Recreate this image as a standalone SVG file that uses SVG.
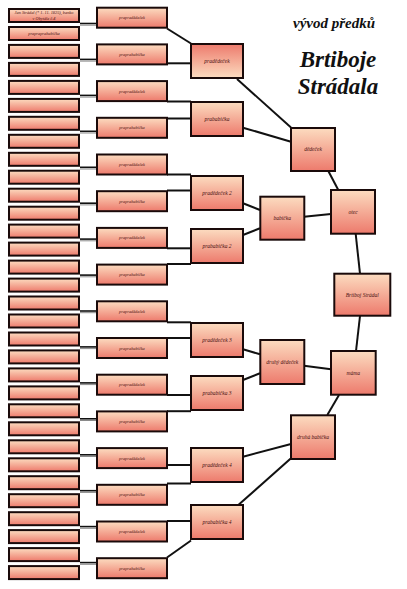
<svg xmlns="http://www.w3.org/2000/svg" width="407" height="589" viewBox="0 0 407 589">
<defs>
<linearGradient id="g" x1="0" y1="0" x2="0" y2="1">
<stop offset="0" stop-color="#fcdcc0"/>
<stop offset="1" stop-color="#ed7a6c"/>
</linearGradient>
<linearGradient id="gr" x1="0" y1="0" x2="0" y2="1">
<stop offset="0" stop-color="#ed7a6c"/>
<stop offset="1" stop-color="#fcdcc0"/>
</linearGradient>
<style>
.b{fill:url(#g);stroke:#1a0a0a;stroke-width:2}
.br{fill:url(#gr);stroke:#1a0a0a;stroke-width:2}
.t{font-family:"Liberation Serif","Times New Roman",serif;font-style:italic;fill:#4a1212;text-anchor:middle}
.s{font-size:4.3px}
.m{font-size:5.5px}
.c line{stroke:#111;stroke-width:2}
.c .k line{stroke:#111;stroke-width:1.6}
.c .gy line{stroke:#8a8a8a;stroke-width:1}
.title{font-family:"Liberation Serif","Times New Roman",serif;font-style:italic;font-weight:bold;fill:#111;text-anchor:middle}
</style>
</defs>
<rect width="407" height="589" fill="#fff"/>
<g id="connectors" class="c">
<g class="k">
<line x1="80" y1="23.5" x2="96" y2="23.5"/>
<line x1="80" y1="59.4" x2="96" y2="59.4"/>
<line x1="80" y1="95.4" x2="96" y2="95.4"/>
<line x1="80" y1="131.3" x2="96" y2="131.3"/>
<line x1="80" y1="167.3" x2="96" y2="167.3"/>
<line x1="80" y1="203.2" x2="96" y2="203.2"/>
<line x1="80" y1="239.1" x2="96" y2="239.1"/>
<line x1="80" y1="275.1" x2="96" y2="275.1"/>
<line x1="80" y1="311.0" x2="96" y2="311.0"/>
<line x1="80" y1="346.9" x2="96" y2="346.9"/>
<line x1="80" y1="382.9" x2="96" y2="382.9"/>
<line x1="80" y1="418.8" x2="96" y2="418.8"/>
<line x1="80" y1="454.8" x2="96" y2="454.8"/>
<line x1="80" y1="490.7" x2="96" y2="490.7"/>
<line x1="80" y1="526.6" x2="96" y2="526.6"/>
<line x1="80" y1="562.6" x2="96" y2="562.6"/>
</g>
<g class="gy">
<line x1="80" y1="25.2" x2="96" y2="25.2"/>
<line x1="80" y1="61.1" x2="96" y2="61.1"/>
<line x1="80" y1="97.1" x2="96" y2="97.1"/>
<line x1="80" y1="133.0" x2="96" y2="133.0"/>
<line x1="80" y1="169.0" x2="96" y2="169.0"/>
<line x1="80" y1="204.9" x2="96" y2="204.9"/>
<line x1="80" y1="240.8" x2="96" y2="240.8"/>
<line x1="80" y1="276.8" x2="96" y2="276.8"/>
<line x1="80" y1="312.7" x2="96" y2="312.7"/>
<line x1="80" y1="348.6" x2="96" y2="348.6"/>
<line x1="80" y1="384.6" x2="96" y2="384.6"/>
<line x1="80" y1="420.5" x2="96" y2="420.5"/>
<line x1="80" y1="456.5" x2="96" y2="456.5"/>
<line x1="80" y1="492.4" x2="96" y2="492.4"/>
<line x1="80" y1="528.3" x2="96" y2="528.3"/>
<line x1="80" y1="564.3" x2="96" y2="564.3"/>
</g>
<line x1="167" y1="28.5" x2="191" y2="43.5"/>
<line x1="167" y1="63.3" x2="191" y2="63.3"/>
<line x1="167" y1="101.5" x2="191" y2="101.5"/>
<line x1="167" y1="118.5" x2="191" y2="118.5"/>
<line x1="167" y1="174.5" x2="191" y2="174.5"/>
<line x1="167" y1="190.5" x2="191" y2="190.5"/>
<line x1="167" y1="248.3" x2="191" y2="248.3"/>
<line x1="167" y1="264" x2="191" y2="264"/>
<line x1="167" y1="322.3" x2="191" y2="322.3"/>
<line x1="167" y1="338" x2="191" y2="338"/>
<line x1="167" y1="395" x2="191" y2="395"/>
<line x1="167" y1="411.2" x2="191" y2="411.2"/>
<line x1="167" y1="465" x2="191" y2="465"/>
<line x1="167" y1="483.5" x2="191" y2="483.5"/>
<line x1="167" y1="521" x2="191" y2="521"/>
<line x1="167" y1="557.5" x2="191" y2="540.5"/>
<line x1="237" y1="79" x2="291" y2="127.5"/>
<line x1="243" y1="127.7" x2="291" y2="141.7"/>
<line x1="243" y1="203.3" x2="260" y2="210"/>
<line x1="243" y1="235" x2="260" y2="228.3"/>
<line x1="304" y1="216.7" x2="331" y2="214"/>
<line x1="328.3" y1="171" x2="338.3" y2="190"/>
<line x1="355.7" y1="234" x2="360" y2="273.7"/>
<line x1="360" y1="316" x2="356" y2="351"/>
<line x1="243" y1="349.3" x2="260" y2="354.3"/>
<line x1="243" y1="380" x2="260" y2="373.3"/>
<line x1="304" y1="365.7" x2="331" y2="369.3"/>
<line x1="339" y1="395" x2="327.3" y2="415"/>
<line x1="243" y1="456.7" x2="291" y2="444"/>
<line x1="238.3" y1="505" x2="291" y2="458.3"/>
</g>
<g id="n-l0"><rect class="b" x="9" y="9" width="70" height="13"/><text class="t s" x="44" y="14.3">Jan Strádal (* 1. 11. 1825), banko</text><text class="t s" x="44" y="19.6">v Obytále č.4</text></g>
<g id="n-l1"><rect class="b" x="9" y="27" width="70" height="13"/><text class="t s" x="44" y="35">prapraprababička</text></g>
<g id="n-l2"><rect class="b" x="9" y="44.9" width="70" height="13"/></g>
<g id="n-l3"><rect class="b" x="9" y="62.9" width="70" height="13"/></g>
<g id="n-l4"><rect class="b" x="9" y="80.9" width="70" height="13"/></g>
<g id="n-l5"><rect class="b" x="9" y="98.9" width="70" height="13"/></g>
<g id="n-l6"><rect class="b" x="9" y="116.8" width="70" height="13"/></g>
<g id="n-l7"><rect class="b" x="9" y="134.8" width="70" height="13"/></g>
<g id="n-l8"><rect class="b" x="9" y="152.8" width="70" height="13"/></g>
<g id="n-l9"><rect class="b" x="9" y="170.7" width="70" height="13"/></g>
<g id="n-l10"><rect class="b" x="9" y="188.7" width="70" height="13"/></g>
<g id="n-l11"><rect class="b" x="9" y="206.7" width="70" height="13"/></g>
<g id="n-l12"><rect class="b" x="9" y="224.6" width="70" height="13"/></g>
<g id="n-l13"><rect class="b" x="9" y="242.6" width="70" height="13"/></g>
<g id="n-l14"><rect class="b" x="9" y="260.6" width="70" height="13"/></g>
<g id="n-l15"><rect class="b" x="9" y="278.6" width="70" height="13"/></g>
<g id="n-l16"><rect class="b" x="9" y="296.5" width="70" height="13"/></g>
<g id="n-l17"><rect class="b" x="9" y="314.5" width="70" height="13"/></g>
<g id="n-l18"><rect class="b" x="9" y="332.5" width="70" height="13"/></g>
<g id="n-l19"><rect class="b" x="9" y="350.4" width="70" height="13"/></g>
<g id="n-l20"><rect class="b" x="9" y="368.4" width="70" height="13"/></g>
<g id="n-l21"><rect class="b" x="9" y="386.4" width="70" height="13"/></g>
<g id="n-l22"><rect class="b" x="9" y="404.3" width="70" height="13"/></g>
<g id="n-l23"><rect class="b" x="9" y="422.3" width="70" height="13"/></g>
<g id="n-l24"><rect class="b" x="9" y="440.3" width="70" height="13"/></g>
<g id="n-l25"><rect class="b" x="9" y="458.3" width="70" height="13"/></g>
<g id="n-l26"><rect class="b" x="9" y="476.2" width="70" height="13"/></g>
<g id="n-l27"><rect class="b" x="9" y="494.2" width="70" height="13"/></g>
<g id="n-l28"><rect class="b" x="9" y="512.2" width="70" height="13"/></g>
<g id="n-l29"><rect class="b" x="9" y="530.1" width="70" height="13"/></g>
<g id="n-l30"><rect class="b" x="9" y="548.1" width="70" height="13"/></g>
<g id="n-l31"><rect class="b" x="9" y="566.1" width="70" height="13"/></g>
<g id="n-c0"><rect class="b" x="97" y="7.7" width="70" height="20"/><text class="t s" x="132" y="19.2">prapradědeček</text></g>
<g id="n-c1"><rect class="b" x="97" y="44.4" width="70" height="20"/><text class="t s" x="132" y="55.9">praprababička</text></g>
<g id="n-c2"><rect class="b" x="97" y="81.1" width="70" height="20"/><text class="t s" x="132" y="92.6">prapradědeček</text></g>
<g id="n-c3"><rect class="b" x="97" y="117.8" width="70" height="20"/><text class="t s" x="132" y="129.3">praprababička</text></g>
<g id="n-c4"><rect class="b" x="97" y="154.5" width="70" height="20"/><text class="t s" x="132" y="166">prapradědeček</text></g>
<g id="n-c5"><rect class="b" x="97" y="191.2" width="70" height="20"/><text class="t s" x="132" y="202.7">praprababička</text></g>
<g id="n-c6"><rect class="b" x="97" y="227.9" width="70" height="20"/><text class="t s" x="132" y="239.4">prapradědeček</text></g>
<g id="n-c7"><rect class="b" x="97" y="264.6" width="70" height="20"/><text class="t s" x="132" y="276.1">praprababička</text></g>
<g id="n-c8"><rect class="b" x="97" y="301.3" width="70" height="20"/><text class="t s" x="132" y="312.8">prapradědeček</text></g>
<g id="n-c9"><rect class="b" x="97" y="338" width="70" height="20"/><text class="t s" x="132" y="349.5">praprababička</text></g>
<g id="n-c10"><rect class="b" x="97" y="374.7" width="70" height="20"/><text class="t s" x="132" y="386.2">prapradědeček</text></g>
<g id="n-c11"><rect class="b" x="97" y="411.4" width="70" height="20"/><text class="t s" x="132" y="422.9">praprababička</text></g>
<g id="n-c12"><rect class="b" x="97" y="448.1" width="70" height="20"/><text class="t s" x="132" y="459.6">prapradědeček</text></g>
<g id="n-c13"><rect class="b" x="97" y="484.8" width="70" height="20"/><text class="t s" x="132" y="496.3">praprababička</text></g>
<g id="n-c14"><rect class="b" x="97" y="521.5" width="70" height="20"/><text class="t s" x="132" y="533">prapradědeček</text></g>
<g id="n-c15"><rect class="b" x="97" y="558.2" width="70" height="20"/><text class="t s" x="132" y="569.7">praprababička</text></g>
<g id="n-pd1"><rect class="br" x="191" y="44" width="52" height="34"/><text class="t m" x="217" y="62.9">pradědeček</text></g>
<g id="n-pb1"><rect class="b" x="191" y="102" width="52" height="34"/><text class="t m" x="217" y="120.9">prababička</text></g>
<g id="n-pd2"><rect class="b" x="191" y="176" width="52" height="34"/><text class="t m" x="217" y="194.9">pradědeček 2</text></g>
<g id="n-pb2"><rect class="b" x="191" y="229" width="52" height="34"/><text class="t m" x="217" y="247.9">prababička 2</text></g>
<g id="n-pd3"><rect class="b" x="191" y="323" width="52" height="34"/><text class="t m" x="217" y="341.9">pradědeček 3</text></g>
<g id="n-pb3"><rect class="b" x="191" y="376" width="52" height="34"/><text class="t m" x="217" y="394.9">prababička 3</text></g>
<g id="n-pd4"><rect class="b" x="191" y="448" width="52" height="34"/><text class="t m" x="217" y="466.9">pradědeček 4</text></g>
<g id="n-pb4"><rect class="b" x="191" y="505" width="52" height="34"/><text class="t m" x="217" y="523.9">prababička 4</text></g>
<g id="n-ded"><rect class="b" x="291" y="128" width="44" height="43"/><text class="t m" x="313" y="151.4">dědeček</text></g>
<g id="n-bab"><rect class="b" x="260.3" y="196.7" width="44" height="43"/><text class="t m" x="282.3" y="220.1">babička</text></g>
<g id="n-otec"><rect class="b" x="331" y="190" width="44" height="43.7"/><text class="t m" x="353" y="213.7">otec</text></g>
<g id="n-brt"><rect class="b" x="334.3" y="273.7" width="56" height="42"/><text class="t m" x="362.3" y="296.6">Brtiboj Strádal</text></g>
<g id="n-dd"><rect class="b" x="260.3" y="340" width="44" height="44"/><text class="t m" x="282.3" y="363.9">druhý dědeček</text></g>
<g id="n-mama"><rect class="b" x="331" y="351" width="44.7" height="43.7"/><text class="t m" x="353.3" y="374.7">máma</text></g>
<g id="n-db"><rect class="b" x="291" y="415.3" width="44" height="43.7"/><text class="t m" x="313" y="439">druhá babička</text></g>
<text class="title" x="334" y="28.3" font-size="15">vývod předků</text>
<text class="title" x="338" y="66.7" font-size="23">Brtiboje</text>
<text class="title" x="338" y="94.3" font-size="23">Strádala</text>
</svg>
